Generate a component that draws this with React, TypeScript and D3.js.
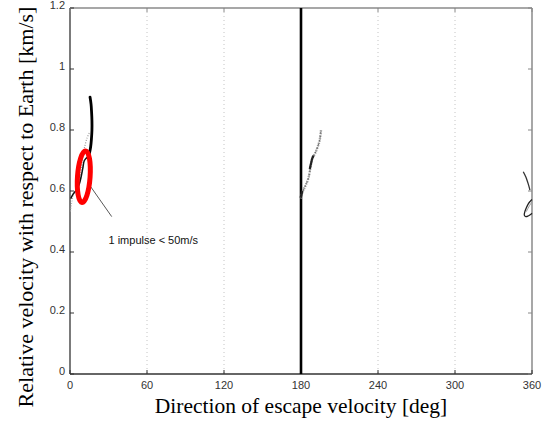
import React from "react";
import * as d3 from "d3";

const xTicks = [0, 60, 120, 180, 240, 300, 360];
const yTicks = [0, 0.2, 0.4, 0.6, 0.8, 1, 1.2];
const gridX = [60, 120, 240, 300];

// cluster near 0 deg
const clusterAThick: [number, number][] = [
  [15.6, 0.908], [16.4, 0.885], [16.8, 0.86], [17.1, 0.83], [17.1, 0.8],
  [16.7, 0.77], [16.1, 0.745], [15.2, 0.725], [14.3, 0.712],
];
const clusterAInner: [number, number][] = [
  [13.8, 0.712], [11.2, 0.7], [10.0, 0.675], [8.6, 0.645], [7.2, 0.622],
  [5.6, 0.607], [3.8, 0.597], [2.2, 0.588], [0.6, 0.575],
];
const clusterAGrey: [number, number][] = [
  [15.0, 0.79], [13.2, 0.773], [11.6, 0.748], [10.2, 0.72], [9.2, 0.69],
  [8.4, 0.66], [7.4, 0.635],
];
const clusterAGreyLow: [number, number][] = [
  [2.5, 0.585], [1.5, 0.565], [0.8, 0.545], [0.3, 0.53],
];

// vertical line at 180 deg
const line180: [number, number][] = [[180, 0], [180, 1.2]];

// cluster near 180 deg
const clusterBGrey: [number, number][] = [
  [179.7, 0.576], [181.3, 0.598], [183.1, 0.614], [185.7, 0.641],
  [187.5, 0.68], [188.8, 0.707], [190.9, 0.723], [194.3, 0.762], [195.6, 0.8],
];
const clusterBDark1: [number, number][] = [
  [186.8, 0.672], [187.8, 0.69], [188.8, 0.707], [189.8, 0.716],
];
const clusterBDark2: [number, number][] = [
  [179.8, 0.578], [180.4, 0.59], [181.0, 0.6],
];

// cluster near 360 deg
const clusterCUpper: [number, number][] = [
  [353.2, 0.663], [354.2, 0.655], [355.3, 0.645], [356.4, 0.632],
  [357.3, 0.62], [358.4, 0.603],
];
const clusterCLoop: [number, number][] = [
  [360, 0.572], [358.6, 0.566], [357.1, 0.558], [355.6, 0.545],
  [354.5, 0.533], [354.0, 0.521], [355.2, 0.516], [357.0, 0.518],
  [358.6, 0.522], [360, 0.527],
];
const clusterCInner: [number, number][] = [
  [360, 0.565], [357.5, 0.548], [355.5, 0.532],
];

// annotation
const ellipseCenter: [number, number] = [10.75, 0.647];
const annotLine: [number, number][] = [[14.3, 0.625], [32.5, 0.516]];
const annotText = "1 impulse < 50m/s";
const annotPos: [number, number] = [30.0, 0.425];

export default function App() {
  const W = 549, H = 421;
  const L = 70, R = 532, T = 8, B = 374;
  const x = d3.scaleLinear().domain([0, 360]).range([L, R]);
  const y = d3.scaleLinear().domain([0, 1.2]).range([B, T]);
  const line = d3.line<[number, number]>().x((d) => x(d[0])).y((d) => y(d[1])).curve(d3.curveCatmullRom);
  const straight = d3.line<[number, number]>().x((d) => x(d[0])).y((d) => y(d[1]));
  const tickFont = "'Liberation Sans', Arial, sans-serif";
  const serif = "'Liberation Serif', 'Times New Roman', serif";

  return (
    <svg width={W} height={H} style={{ position: "absolute", left: 0, top: 0, background: "#fff" }}>
      <rect x={0} y={0} width={W} height={H} fill="#fff" />
      {gridX.map((g) => (
        <line key={g} x1={x(g)} x2={x(g)} y1={T} y2={B} stroke="#c4c4c4" strokeWidth={1} strokeDasharray="1,3" />
      ))}
      {/* box */}
      <line x1={L} x2={R} y1={T} y2={T} stroke="#8a8a8a" strokeWidth={1.5} />
      <line x1={R} x2={R} y1={T} y2={B} stroke="#8a8a8a" strokeWidth={1.5} />
      <line x1={L} x2={L} y1={T} y2={B} stroke="#333" strokeWidth={1.3} />
      <line x1={L} x2={R} y1={B} y2={B} stroke="#333" strokeWidth={1.3} />
      {/* ticks */}
      {yTicks.map((t) => (
        <g key={"y" + t}>
          <line x1={L} x2={L + 4} y1={y(t)} y2={y(t)} stroke="#333" />
          <line x1={R} x2={R - 4} y1={y(t)} y2={y(t)} stroke="#888" />
          <text x={L - 5} y={y(t)} dy="0.1em" textAnchor="end" fontFamily={tickFont} fontSize={11} fill="#333">
            {String(t)}
          </text>
        </g>
      ))}
      {xTicks.map((t) => (
        <g key={"x" + t}>
          <line x1={x(t)} x2={x(t)} y1={B} y2={B - 4} stroke="#333" />
          <line x1={x(t)} x2={x(t)} y1={T} y2={T + 4} stroke="#888" />
          <text x={x(t)} y={B + 15} textAnchor="middle" fontFamily={tickFont} fontSize={11} fill="#333">
            {t}
          </text>
        </g>
      ))}
      {/* data */}
      <path d={straight(line180) || ""} stroke="#000" strokeWidth={2.6} fill="none" />
      <path d={line(clusterAGrey) || ""} stroke="#999" strokeWidth={1.2} strokeDasharray="1,1.5" fill="none" />
      <path d={line(clusterAGreyLow) || ""} stroke="#aaa" strokeWidth={1} strokeDasharray="1,1.5" fill="none" />
      <path d={line(clusterAThick) || ""} stroke="#000" strokeWidth={2.8} fill="none" strokeLinecap="round" />
      <path d={line(clusterAInner) || ""} stroke="#111" strokeWidth={1.5} fill="none" />
      <path d={line(clusterBGrey) || ""} stroke="#a0a0a0" strokeWidth={2.4} strokeDasharray="1.5,1" fill="none" />
      <path d={line(clusterBGrey) || ""} stroke="#555" strokeWidth={0.8} strokeDasharray="2,2" fill="none" />
      <path d={line(clusterBDark1) || ""} stroke="#222" strokeWidth={2.2} fill="none" />
      <path d={line(clusterBDark2) || ""} stroke="#222" strokeWidth={2.4} fill="none" />
      <path d={line(clusterCUpper) || ""} stroke="#333" strokeWidth={1.3} fill="none" />
      <path d={line(clusterCLoop) || ""} stroke="#222" strokeWidth={1.3} fill="none" />
      <path d={line(clusterCInner) || ""} stroke="#999" strokeWidth={1} fill="none" />
      {/* annotation */}
      <path d={straight(annotLine) || ""} stroke="#444" strokeWidth={0.9} fill="none" />
      <ellipse cx={x(ellipseCenter[0])} cy={y(ellipseCenter[1])} rx={6.3} ry={25.8} fill="none" stroke="#ff0000" strokeWidth={5} transform={`rotate(4 ${x(ellipseCenter[0])} ${y(ellipseCenter[1])})`} />
      <text x={x(annotPos[0])} y={y(annotPos[1])} fontFamily={tickFont} fontSize={11} fill="#111">
        {annotText}
      </text>
      {/* axis labels */}
      <text x={(L + R) / 2} y={413} textAnchor="middle" fontFamily={serif} fontSize={21.5} fill="#000">
        Direction of escape velocity [deg]
      </text>
      <text transform={`translate(33, ${(T + B) / 2 + 16}) rotate(-90)`} textAnchor="middle" fontFamily={serif} fontSize={22} fill="#000">
        Relative velocity with respect to Earth [km/s]
      </text>
    </svg>
  );
}
